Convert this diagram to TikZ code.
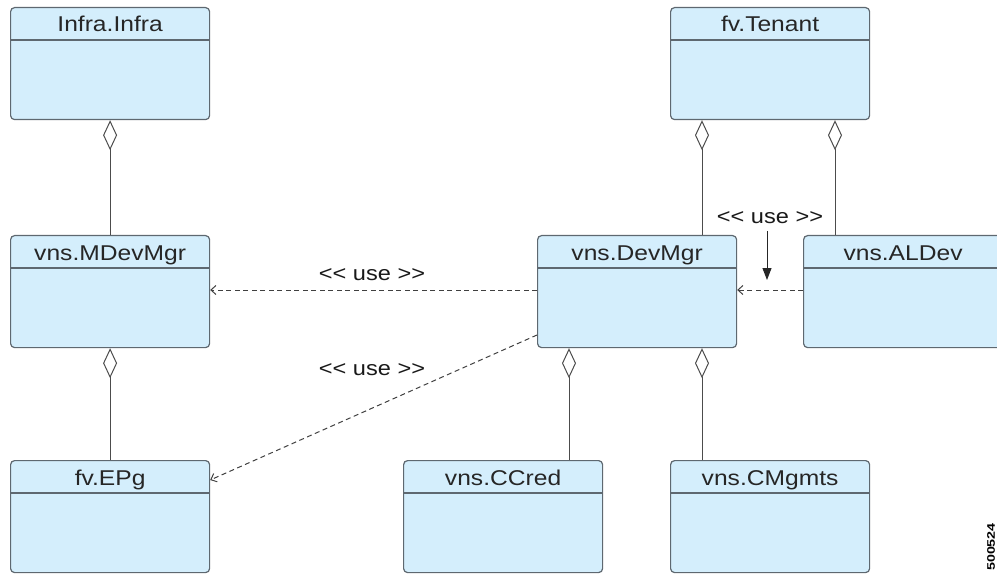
\documentclass[tikz,border=0pt]{standalone}
\usepackage{fontspec}
\setmainfont{Liberation Sans}[FakeStretch=1.15]
\newfontfamily\idfont{Liberation Sans}
\usetikzlibrary{arrows.meta}
\definecolor{boxfill}{HTML}{D4EEFC}
\definecolor{boxline}{HTML}{5E6870}
\begin{document}
\begin{tikzpicture}[x=1pt,y=-1pt,
  cls/.style={draw=boxline,fill=boxfill,line width=1.2pt,rounded corners=4pt,minimum width=199pt,minimum height=112pt,inner sep=0pt,anchor=north west},
  title/.style={font=\fontsize{21.4}{24}\selectfont,text=black!85,anchor=base,inner sep=0pt},
  agg/.style={draw=black!70,line width=1pt,{Diamond[open,length=30pt,width=14pt,line width=1pt]}-},
  dep/.style={draw=black!75,line width=1pt,dash pattern=on 5pt off 3.5pt,-{Straight Barb[length=5pt,width=9pt,line width=1pt]}},
  lbl/.style={font=\fontsize{20.5}{22}\selectfont,inner sep=0pt,anchor=base,text=black!90}]
\useasboundingbox (0,0) rectangle (997,575);
\clip (0,0) rectangle (997,575);
% class boxes
\foreach \n/\x/\y/\t in {infra/10/7/Infra.Infra, mdev/10/235/vns.MDevMgr, epg/10/460/fv.EPg,
  tenant/670/7/fv.Tenant, devmgr/537/235/vns.DevMgr, aldev/803/235/vns.ALDev,
  ccred/403/460/vns.CCred, cmgmts/670/460/vns.CMgmts}{
  \node[cls] (\n) at (\x,\y) {};
  \draw[boxline,line width=1.2pt] ([yshift=-33pt]\n.north west) -- ([yshift=-33pt]\n.north east);
  \node[title] (\n-t) at ([yshift=-25pt]\n.north) {\t};
}
% aggregations
\draw[agg] (infra.south) -- (mdev.north);
\draw[agg] (mdev.south) -- (epg.north);
\draw[agg] ([xshift=32pt]tenant.south west) -- ([xshift=32pt]tenant.south west |- devmgr.north);
\draw[agg] ([xshift=165pt]tenant.south west) -- ([xshift=165pt]tenant.south west |- aldev.north);
\draw[agg] ([xshift=32pt]devmgr.south west) -- ([xshift=32pt]devmgr.south west |- ccred.north);
\draw[agg] ([xshift=165pt]devmgr.south west) -- ([xshift=165pt]devmgr.south west |- cmgmts.north);
% dependencies
\draw[dep] ([yshift=-55pt]devmgr.north west) -- ([yshift=-55pt]mdev.north east);
\node[lbl] (u1) at (372,280) {<{}< use >{}>};
\draw[dep] ([yshift=-100pt]devmgr.north west) -- ([yshift=-20pt]epg.north east);
\node[lbl] (u2) at (372,375) {<{}< use >{}>};
\draw[dep] ([yshift=-55pt]aldev.north west) -- ([yshift=-55pt]devmgr.north east);
\node[lbl] (u3) at (770,223) {<{}< use >{}>};
\coordinate (u3e) at (767,280);
\draw[black!85,line width=1pt,-{Triangle[length=12pt,width=9pt]}] (767,231) -- (u3e);
% figure id
\node[rotate=90,xscale=1.3,font=\idfont\fontsize{11}{12}\selectfont\bfseries,inner sep=0pt] (fid) at (991,547) {500524};
\end{tikzpicture}
\end{document}
